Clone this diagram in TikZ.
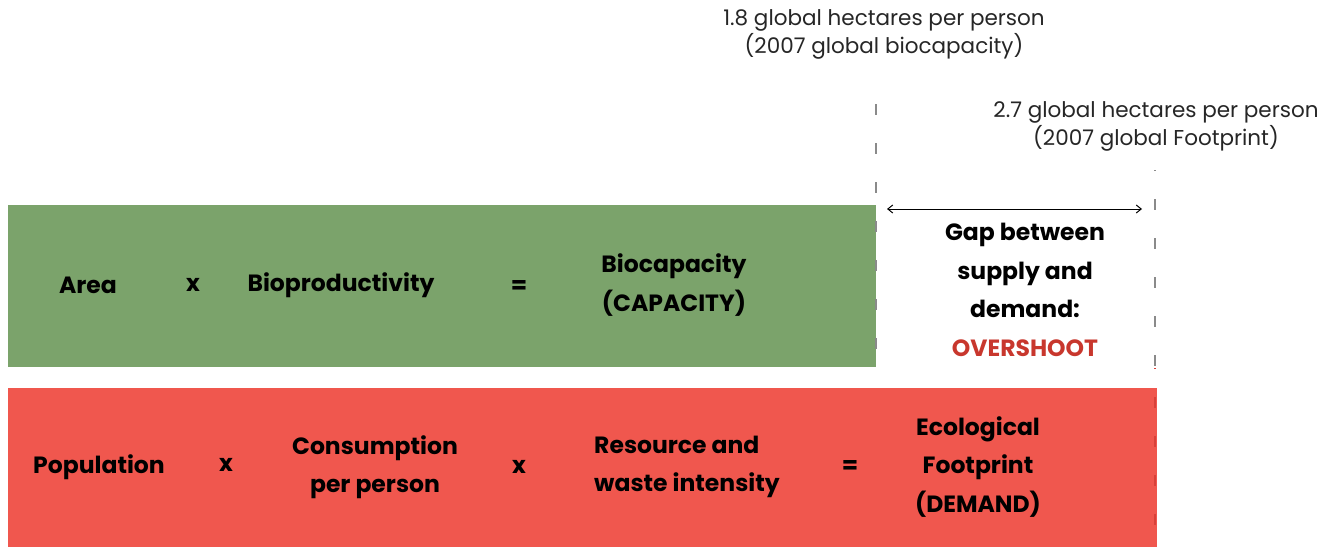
\documentclass[tikz,border=0pt]{standalone}
\usepackage{fontspec}
\setmainfont{Poppins}
\usetikzlibrary{arrows.meta}
\definecolor{bgreen}{HTML}{7BA36B}
\definecolor{bred}{HTML}{F0574E}
\definecolor{oshoot}{HTML}{C8372D}
\definecolor{dgray}{HTML}{8A8A8A}
\definecolor{dred}{HTML}{D8413A}
\tikzset{
  bold/.style={font=\fontsize{23.5}{38.5}\selectfont\bfseries, text=black, align=center, inner sep=0pt},
  light/.style={font=\fontsize{21.5}{28}\selectfont, text=black!85, align=center, inner sep=0pt},
  dashln/.style={line width=1.6pt, dash pattern=on 11pt off 28pt},
}
\begin{document}
\begin{tikzpicture}[x=1pt,y=-1pt]
\useasboundingbox (0,0) rectangle (1332,547);
% bars
\fill[bgreen] (8,205) rectangle (876,367);
\fill[bred] (8,388) rectangle (1157,547);
% dashed lines
\coordinate (d1t) at (876,104);
\coordinate (d1b) at (876,362);
\coordinate (d2t) at (1155,170);
\coordinate (d2m) at (1155,368);
\coordinate (d2b) at (1155,530);
\draw[dashln, dgray] (d1t) -- (d1b);
\draw[dashln, dgray, dash phase=10pt] (d2t) -- (d2m);
\draw[dashln, dred, dash phase=10pt] (d2m) -- (d2b);
% arrow
\coordinate (al) at (887,209);
\coordinate (ar) at (1142,209);
\draw[line width=1pt, {Straight Barb[length=5pt,width=8pt]}-{Straight Barb[length=5pt,width=8pt]}] (al) -- (ar);
% top labels
\node[light] (t1) at (884,34) {1.8 global hectares per person\\(2007 global biocapacity)};
\node[light] (t2) at (1156,126) {2.7 global hectares per person\\(2007 global Footprint)};
% gap text
\node[bold] (gap) at (1025,290) {Gap between\\supply and\\demand:\\\textcolor{oshoot}{OVERSHOOT}};
% green row
\node[bold] (area) at (88,285) {Area};
\node[bold] (x1) at (193,285) {x};
\node[bold] (bio) at (341,285) {Bioproductivity};
\node[bold] (eq1) at (519,287) {=};
\node[bold] (cap) at (674,285) {Biocapacity\\(CAPACITY)};
% red row
\node[bold] (pop) at (99,467) {Population};
\node[bold] (x2) at (226,465) {x};
\node[bold] (cons) at (375,467) {Consumption\\per person};
\node[bold] (x3) at (519,467) {x};
\node[bold, align=left, anchor=west] (res) at (594,467) {Resource and\\waste intensity};
\node[bold] (eq2) at (850,467) {=};
\node[bold] (eco) at (978,467) {Ecological\\Footprint\\(DEMAND)};
\end{tikzpicture}
\end{document}
